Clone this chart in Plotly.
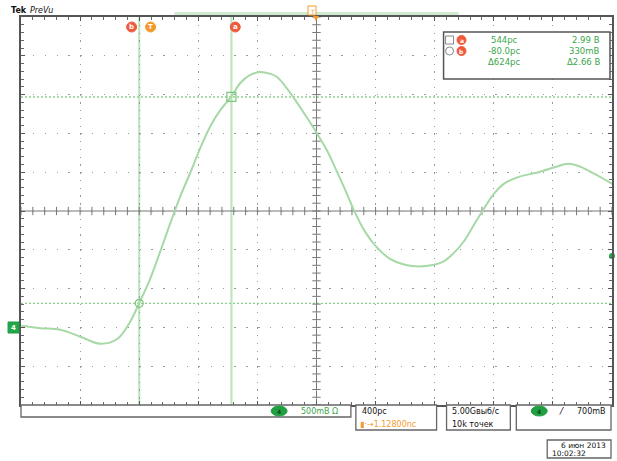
import plotly.graph_objects as go

# ---- data ----
t_ps = [-877, -749, -614, -479, -344, -229, -142, -81, -7, 61, 128, 196, 263, 331,
        398, 465, 546, 600, 668, 735, 803, 850, 904, 958, 1039, 1120, 1194, 1255,
        1315, 1376, 1443, 1524, 1612, 1680, 1767, 1862, 1970, 2050, 2118, 2185,
        2253, 2320, 2388, 2489, 2624, 2759, 2826, 2894, 2961, 3029, 3123]
v_volts = [0.04, 0.01, -0.01, -0.10, -0.19, -0.13, 0.09, 0.33, 0.64, 0.99, 1.35, 1.70,
           2.00, 2.32, 2.60, 2.81, 3.00, 3.16, 3.27, 3.31, 3.29, 3.25, 3.14, 3.00,
           2.77, 2.53, 2.29, 2.04, 1.79, 1.52, 1.27, 1.06, 0.91, 0.85, 0.81, 0.81,
           0.86, 0.98, 1.13, 1.34, 1.55, 1.74, 1.87, 1.96, 2.02, 2.10, 2.13, 2.10,
           2.04, 1.97, 1.87]
cursor_t = [544, -80]          # cursor a, cursor b (ps)
cursor_v = [2.99, 0.33]        # cursor a, cursor b (V)
cursor_names = ["a", "b"]
readout_time = ["544pc", "-80.0pc", "Δ624pc"]
readout_volt = ["2.99 В", "330mВ", "Δ2.66 В"]
ch_scale = "500mВ Ω"
time_scale = "400pc"
h_pos = "▮·→1.12800nc"
sample_rate = "5.00Gвыб/c"
record_len = "10k точек"
trig_level = "700mВ"
date_str = "6 июн 2013"
time_str = "10:02:32"
trig_level_v = 0.94

XMIN, XMAX = -880, 3120
YMIN, YMAX = -0.98, 4.02
XDIV, YDIV = 400, 0.5
XC, YC = XMIN + 5 * XDIV, YMIN + 5 * YDIV

W, H = 617, 461
L, R, T, B = 21, 3, 17, 56
PW, PH = W - L - R, H - T - B


def PX(x):
    return (x - L) / PW


def PY(y):
    return (T + PH - y) / PH


GREEN = "#a6d9a6"
TXTG = "#3aa64a"
RED = "#ef5a3c"
ORANGE = "#f39a2b"
FONT = "DejaVu Sans"

fig = go.Figure()

# center-line minor ticks
nx = 51
fig.add_trace(go.Scatter(x=[XMIN + XDIV / 5 * k for k in range(nx)], y=[YC] * nx,
                         mode="markers", hoverinfo="skip",
                         marker=dict(symbol="line-ns", size=6, line=dict(width=1, color="#777"))))
fig.add_trace(go.Scatter(y=[YMIN + YDIV / 5 * k for k in range(nx)], x=[XC] * nx,
                         mode="markers", hoverinfo="skip",
                         marker=dict(symbol="line-ew", size=6, line=dict(width=1, color="#777"))))

shapes = []
ann = []

# cursor lines
for ct in cursor_t:
    shapes.append(dict(type="line", xref="x", yref="y", x0=ct, x1=ct, y0=YMIN, y1=YMAX,
                       line=dict(color="#bfe6bf", width=2.2), layer="below"))
for cv in cursor_v:
    shapes.append(dict(type="line", xref="x", yref="y", x0=XMIN, x1=XMAX, y0=cv, y1=cv,
                       line=dict(color="#8fd28f", width=1.4, dash="2px,2px"), layer="below"))
# center lines
shapes.append(dict(type="line", xref="x", yref="y", x0=XC, x1=XC, y0=YMIN, y1=YMAX,
                   line=dict(color="#777", width=1), layer="below"))
shapes.append(dict(type="line", xref="x", yref="y", x0=XMIN, x1=XMAX, y0=YC, y1=YC,
                   line=dict(color="#777", width=1), layer="below"))

# waveform
fig.add_trace(go.Scatter(x=t_ps, y=v_volts, mode="lines", hoverinfo="skip",
                         line=dict(color=GREEN, width=2, shape="spline")))

# cursor intersection markers
fig.add_trace(go.Scatter(x=[cursor_t[0]], y=[cursor_v[0]], mode="markers", hoverinfo="skip",
                         marker=dict(symbol="square-open", size=9, color="#7cc67c",
                                     line=dict(width=1.2))))
fig.add_trace(go.Scatter(x=[cursor_t[1]], y=[cursor_v[1]], mode="markers", hoverinfo="skip",
                         marker=dict(symbol="circle-open", size=8, color="#7cc67c",
                                     line=dict(width=1.2))))
# trigger level marker on right edge
fig.add_trace(go.Scatter(x=[XMAX], y=[trig_level_v], mode="markers", hoverinfo="skip",
                         cliponaxis=False,
                         marker=dict(symbol="circle", size=6, color="#22a84a")))


def text(x, y, s, color="#111", size=8, xanchor="center", bold=False):
    if bold:
        s = "<b>" + s + "</b>"
    ann.append(dict(xref="paper", yref="paper", x=PX(x), y=PY(y), text=s, showarrow=False,
                    xanchor=xanchor, yanchor="middle",
                    font=dict(family=FONT, size=size, color=color)))


def rect(x0, y0, x1, y1, line="#777", fill="white", width=1.2):
    shapes.append(dict(type="rect", xref="paper", yref="paper", x0=PX(x0), x1=PX(x1),
                       y0=PY(y1), y1=PY(y0), line=dict(color=line, width=width),
                       fillcolor=fill))


def circ(cx, cy, rx, ry, fill, line=None):
    shapes.append(dict(type="circle", xref="paper", yref="paper", x0=PX(cx - rx),
                       x1=PX(cx + rx), y0=PY(cy + ry), y1=PY(cy - ry),
                       line=dict(color=line or fill, width=1), fillcolor=fill))


# top header
text(9, 10, "Tek", size=8, xanchor="left", bold=True)
text(28, 10, "<i>PreVu</i>", size=8, xanchor="left")
shapes.append(dict(type="rect", xref="paper", yref="paper", x0=PX(175), x1=PX(460),
                   y0=PY(15), y1=PY(12), line=dict(width=0), fillcolor="#cfeacf"))
rect(309, 6, 317, 15, line=ORANGE, fill="white", width=1)
text(313, 11, "T", color=ORANGE, size=6)
shapes.append(dict(type="path", xref="paper", yref="paper",
                   path=f"M {PX(314)},{PY(16)} L {PX(320)},{PY(16)} L {PX(317)},{PY(21)} Z",
                   fillcolor=ORANGE, line=dict(width=0)))
# cursor labels at top
for nm, px in zip(cursor_names, [236, 132]):
    circ(px, 27, 5, 5, RED)
    text(px, 27, nm, color="white", size=7, bold=True)
circ(151, 27, 5, 5, ORANGE)
text(151, 27, "T", color="white", size=7, bold=True)

# readout box
rect(445, 32, 612, 79, line="#555", width=1.5)
rect(447, 36, 455, 44, line="#888", width=1)
circ(451, 51, 4, 4, "white", line="#888")
for yy, nm in zip([40, 51], cursor_names):
    circ(463, yy, 4.5, 4.5, RED)
    text(463, yy, nm, color="white", size=6, bold=True)
for i, yy in enumerate([40, 51, 62]):
    text(506, yy, readout_time[i], color=TXTG, size=8.5)
    text(604, yy, readout_volt[i], color=TXTG, size=8.5, xanchor="right")

# ground marker on left
rect(8, 322, 19, 333, line="#1e9a42", fill="#22a84a", width=1)
text(13.5, 327.5, "4", color="white", size=7, bold=True)

# bottom boxes
rect(21, 405, 352, 417, line="#666", width=1.3)
circ(280, 411, 8, 5, "#20a040")
text(280, 411, "4", color="#0a4a1a", size=6, bold=True)
text(300, 411, ch_scale, color=TXTG, size=8, xanchor="left")

rect(357, 405, 438, 430, line="#666", width=1.3)
text(361, 411, time_scale, size=8, xanchor="left")
text(359, 424, h_pos, color=ORANGE, size=8, xanchor="left")

rect(448, 405, 512, 430, line="#666", width=1.3)
text(451, 411, sample_rate, size=8, xanchor="left")
text(451, 424, record_len, size=8, xanchor="left")

rect(518, 405, 613, 430, line="#666", width=1.3)
circ(541, 411, 8, 5, "#20a040")
text(541, 411, "4", color="#0a4a1a", size=6, bold=True)
text(563, 411, "<i>/</i>", size=9)
text(610, 411, trig_level, size=8, xanchor="right")

rect(549, 440, 613, 458, line="#666", width=1.3)
text(610, 445, date_str, size=7.5, xanchor="right")
text(552, 453, time_str, size=7.5, xanchor="left")

fig.update_layout(
    width=W, height=H, margin=dict(l=L, r=R, t=T, b=B, pad=0),
    paper_bgcolor="white", plot_bgcolor="white", showlegend=False,
    shapes=shapes, annotations=ann,
    xaxis=dict(range=[XMIN, XMAX], tick0=XMIN, dtick=XDIV, showgrid=True,
               gridcolor="#9a9a9a", gridwidth=1.3, griddash="1.3px,6.46px",
               showticklabels=False, zeroline=False, ticks="inside", ticklen=4,
               tickcolor="#555", showline=True, linecolor="#555", linewidth=1.5,
               mirror="allticks",
               minor=dict(ticks="inside", dtick=XDIV / 5, tick0=XMIN, ticklen=3,
                          tickcolor="#666", showgrid=False)),
    yaxis=dict(range=[YMIN, YMAX], tick0=YMIN, dtick=YDIV, showgrid=True,
               gridcolor="#9a9a9a", gridwidth=1.3, griddash="1.3px,10.56px",
               showticklabels=False, zeroline=False, ticks="inside", ticklen=4,
               tickcolor="#555", showline=True, linecolor="#555", linewidth=1.5,
               mirror="allticks",
               minor=dict(ticks="inside", dtick=YDIV / 5, tick0=YMIN, ticklen=3,
                          tickcolor="#666", showgrid=False)),
)

fig.write_html("out.html", config={"displayModeBar": False},
               post_script="document.body.style.margin='0';document.body.style.overflow='hidden';")
